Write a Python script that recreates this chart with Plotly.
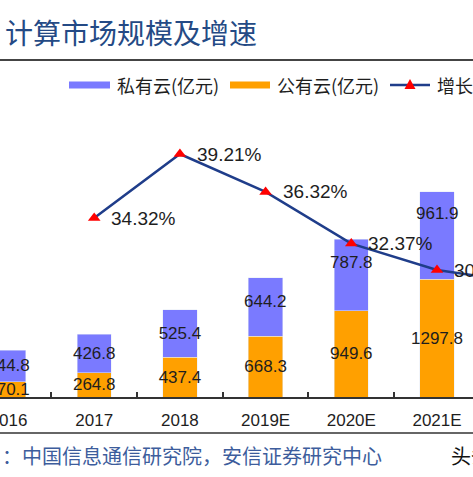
import plotly.graph_objects as go

# ---------------- data ----------------
years = ["2016", "2017", "2018", "2019E", "2020E", "2021E", "2022E"]
public_cloud = [170.1, 264.8, 437.4, 668.3, 949.6, 1297.8, None]   # 公有云(亿元)
private_cloud = [344.8, 426.8, 525.4, 644.2, 787.8, 961.9, None]   # 私有云(亿元)
growth = [None, 34.32, 39.21, 36.32, 32.37, 30.35, 29.4]            # 增长率(%)

title_text = "计算市场规模及增速"
source_text = "：中国信息通信研究院，安信证券研究中心"
watermark_text = "头条"
legend_names = ["私有云(亿元)", "公有云(亿元)", "增长率"]

# ---------------- styles / geometry ----------------
W, H = 473, 477
PLOT_TOP, PLOT_BOTTOM = 100, 397
PURPLE = "#7a7aff"
ORANGE = "#ffa000"
NAVY = "#1f3d8a"
RED = "#ff0000"
TXT = "#1e1e1e"
NUMFONT = "Liberation Sans, Arial, sans-serif"
CJK = "Noto Sans CJK SC, sans-serif"


def ypaper(ypx):
    return (PLOT_BOTTOM - ypx) / (PLOT_BOTTOM - PLOT_TOP)


def xpaper(xpx):
    return xpx / W


# labels that were nudged upward in the original (to dodge the line)
shifted = {"2019E": 6, "2020E": 13, "2021E": 22}

pub_text = ["" if v is None else f"{v:.1f}" for v in public_cloud]
priv_text = ["" if (v is None or y in shifted) else f"{v:.1f}"
             for y, v in zip(years, private_cloud)]

fig = go.Figure()
fig.add_trace(go.Bar(
    x=years, y=public_cloud, name=legend_names[1], marker_color=ORANGE,
    text=pub_text, textposition="inside", insidetextanchor="middle",
    textangle=0, constraintext="none",
    insidetextfont=dict(family=NUMFONT, size=17, color=TXT),
    cliponaxis=True, showlegend=False, width=0.4,
))
fig.add_trace(go.Bar(
    x=years, y=private_cloud, name=legend_names[0], marker_color=PURPLE,
    text=priv_text, textposition="inside", insidetextanchor="middle",
    textangle=0, constraintext="none",
    insidetextfont=dict(family=NUMFONT, size=17, color=TXT),
    cliponaxis=True, showlegend=False, width=0.4,
))
fig.add_trace(go.Scatter(
    x=years, y=growth, name=legend_names[2], yaxis="y2",
    mode="lines+markers", line=dict(color=NAVY, width=2.5),
    marker=dict(symbol="triangle-up", size=11, color=RED),
    showlegend=False, connectgaps=False,
))

annotations = []
# shifted private-cloud labels (x given as category index)
for i, (y, pub, priv) in enumerate(zip(years, public_cloud, private_cloud)):
    if y in shifted and priv is not None:
        annotations.append(dict(
            x=i, y=pub + priv / 2, xref="x", yref="y", text=f"{priv:.1f}",
            showarrow=False, yshift=shifted[y],
            font=dict(family=NUMFONT, size=17, color=TXT)))
# growth labels
for i, (y, g) in enumerate(zip(years, growth)):
    if g is None or y == "2022E":
        continue
    annotations.append(dict(
        x=i, y=g, xref="x", yref="y2", text=f"{g:.2f}%", showarrow=False,
        xanchor="left", yanchor="middle", xshift=15,
        font=dict(family=NUMFONT, size=19, color=TXT)))

# title, source, watermark
annotations.append(dict(
    x=xpaper(3), y=ypaper(32), xref="paper", yref="paper", text=title_text,
    showarrow=False, xanchor="left", yanchor="middle",
    font=dict(family=CJK, size=28, color="#244a85")))
annotations.append(dict(
    x=xpaper(0), y=ypaper(455), xref="paper", yref="paper", text=source_text,
    showarrow=False, xanchor="left", yanchor="middle",
    font=dict(family=CJK, size=20, color="#3d5d9c")))
annotations.append(dict(
    x=xpaper(449), y=ypaper(455), xref="paper", yref="paper", text=watermark_text,
    showarrow=False, xanchor="left", yanchor="middle",
    font=dict(family=CJK, size=20, color="#111111")))

# manual legend
LEG_Y = 85
leg_items = [(69, 110, PURPLE, legend_names[0], 115),
             (230, 270, ORANGE, legend_names[1], 275)]
shapes = []
for x0, x1, col, name, tx in leg_items:
    shapes.append(dict(type="rect", xref="paper", yref="paper",
                       x0=xpaper(x0), x1=xpaper(x1),
                       y0=ypaper(LEG_Y + 3.5), y1=ypaper(LEG_Y - 3.5),
                       fillcolor=col, line=dict(width=0)))
    annotations.append(dict(
        x=xpaper(tx), y=ypaper(LEG_Y), xref="paper", yref="paper", text=name,
        showarrow=False, xanchor="left", yanchor="middle",
        font=dict(family=CJK, size=18, color=TXT)))
shapes.append(dict(type="line", xref="paper", yref="paper",
                   x0=xpaper(390), x1=xpaper(430), y0=ypaper(LEG_Y), y1=ypaper(LEG_Y),
                   line=dict(color=NAVY, width=2.5)))
tri = (f"M {xpaper(404.5)} {ypaper(LEG_Y + 4)} L {xpaper(415.5)} {ypaper(LEG_Y + 4)} "
       f"L {xpaper(410)} {ypaper(LEG_Y - 6)} Z")
shapes.append(dict(type="path", xref="paper", yref="paper", path=tri,
                   fillcolor=RED, line=dict(width=0)))
annotations.append(dict(
    x=xpaper(435), y=ypaper(LEG_Y), xref="paper", yref="paper", text=legend_names[2],
    showarrow=False, xanchor="left", yanchor="middle",
    font=dict(family=CJK, size=18, color=TXT)))

# separator lines
shapes.append(dict(type="line", xref="paper", yref="paper", x0=0, x1=1,
                   y0=ypaper(60), y1=ypaper(60), line=dict(color="#444444", width=2)))
shapes.append(dict(type="line", xref="paper", yref="paper", x0=0, x1=1,
                   y0=ypaper(433), y1=ypaper(433), line=dict(color="#666666", width=2)))

SPACING = 85.7
X0 = 8.5
fig.update_layout(
    width=W, height=H,
    margin=dict(l=0, r=0, t=PLOT_TOP, b=H - PLOT_BOTTOM, pad=0, autoexpand=False),
    paper_bgcolor="white", plot_bgcolor="white",
    barmode="stack",
    showlegend=False,
    xaxis=dict(
        type="category", categoryorder="array", categoryarray=years,
        range=[-X0 / SPACING, (W - X0) / SPACING], automargin=False,
        showline=True, linecolor="#333333", linewidth=1.5,
        ticks="inside", tickson="boundaries", ticklen=5, tickwidth=1.5,
        tickcolor="#333333", showgrid=False, zeroline=False,
        tickfont=dict(family=NUMFONT, size=17, color=TXT),
        ticklabelstandoff=7,
    ),
    yaxis=dict(range=[0, 297 / 0.0908], visible=False, showgrid=False,
               zeroline=False, automargin=False),
    yaxis2=dict(range=[20.65, 43.34], overlaying="y", side="right", visible=False,
                showgrid=False, zeroline=False, automargin=False),
    annotations=annotations,
    shapes=shapes,
)

fig.write_html(
    "out.html",
    config={"displayModeBar": False},
    post_script="document.body.style.margin='0';document.body.style.overflow='hidden';",
)
